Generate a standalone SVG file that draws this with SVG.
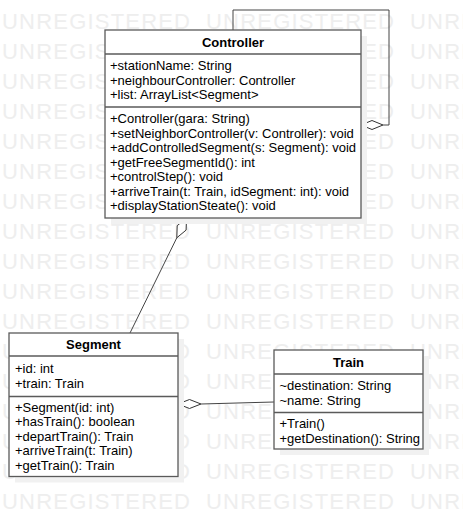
<svg xmlns="http://www.w3.org/2000/svg" width="463" height="519" viewBox="0 0 463 519">
<style>
.wm{font-family:"Liberation Sans",Arial,sans-serif;font-size:22px;letter-spacing:1.2px;fill:#eeeeee}
.box{fill:#ffffff;stroke:#5a5a5a;stroke-width:1.3}
.sep{stroke:#5a5a5a;stroke-width:1.3}
.shadow{fill:#f1f1f1}
.t{font-family:"Liberation Sans",Arial,sans-serif;font-size:13px;fill:#000}
.h{font-family:"Liberation Sans",Arial,sans-serif;font-size:13px;font-weight:bold;fill:#000;text-anchor:middle}
.ln{fill:none;stroke:#444;stroke-width:1}
.dm{fill:#ffffff;stroke:#333;stroke-width:1}
</style>
<rect width="463" height="519" fill="#ffffff"/>
<g id="watermark" class="wm">
<text y="29"><tspan x="2">UNREGISTERED</tspan><tspan x="206">UNREGISTERED</tspan><tspan x="410">UNREGISTERED</tspan></text>
<text y="59"><tspan x="2">UNREGISTERED</tspan><tspan x="206">UNREGISTERED</tspan><tspan x="410">UNREGISTERED</tspan></text>
<text y="89"><tspan x="2">UNREGISTERED</tspan><tspan x="206">UNREGISTERED</tspan><tspan x="410">UNREGISTERED</tspan></text>
<text y="119"><tspan x="2">UNREGISTERED</tspan><tspan x="206">UNREGISTERED</tspan><tspan x="410">UNREGISTERED</tspan></text>
<text y="149"><tspan x="2">UNREGISTERED</tspan><tspan x="206">UNREGISTERED</tspan><tspan x="410">UNREGISTERED</tspan></text>
<text y="179"><tspan x="2">UNREGISTERED</tspan><tspan x="206">UNREGISTERED</tspan><tspan x="410">UNREGISTERED</tspan></text>
<text y="209"><tspan x="2">UNREGISTERED</tspan><tspan x="206">UNREGISTERED</tspan><tspan x="410">UNREGISTERED</tspan></text>
<text y="239"><tspan x="2">UNREGISTERED</tspan><tspan x="206">UNREGISTERED</tspan><tspan x="410">UNREGISTERED</tspan></text>
<text y="269"><tspan x="2">UNREGISTERED</tspan><tspan x="206">UNREGISTERED</tspan><tspan x="410">UNREGISTERED</tspan></text>
<text y="299"><tspan x="2">UNREGISTERED</tspan><tspan x="206">UNREGISTERED</tspan><tspan x="410">UNREGISTERED</tspan></text>
<text y="329"><tspan x="2">UNREGISTERED</tspan><tspan x="206">UNREGISTERED</tspan><tspan x="410">UNREGISTERED</tspan></text>
<text y="359"><tspan x="2">UNREGISTERED</tspan><tspan x="206">UNREGISTERED</tspan><tspan x="410">UNREGISTERED</tspan></text>
<text y="389"><tspan x="2">UNREGISTERED</tspan><tspan x="206">UNREGISTERED</tspan><tspan x="410">UNREGISTERED</tspan></text>
<text y="419"><tspan x="2">UNREGISTERED</tspan><tspan x="206">UNREGISTERED</tspan><tspan x="410">UNREGISTERED</tspan></text>
<text y="449"><tspan x="2">UNREGISTERED</tspan><tspan x="206">UNREGISTERED</tspan><tspan x="410">UNREGISTERED</tspan></text>
<text y="479"><tspan x="2">UNREGISTERED</tspan><tspan x="206">UNREGISTERED</tspan><tspan x="410">UNREGISTERED</tspan></text>
<text y="509"><tspan x="2">UNREGISTERED</tspan><tspan x="206">UNREGISTERED</tspan><tspan x="410">UNREGISTERED</tspan></text>
</g>
<g id="connectors">
<polyline class="ln" points="233,30 233,10 389,10 389,125 383,125"/>
<polygon class="dm" points="361,125 372,120.5 383,125 372,129.5"/>
<line class="ln" x1="176.8" y1="237.8" x2="130" y2="333"/>
<polygon class="dm" points="186.5,218 186.1,230.1 176.8,237.8 177.2,225.7"/>
<line class="ln" x1="201" y1="404" x2="274" y2="402"/>
<polygon class="dm" points="178,404 189.5,399.5 201,404 189.5,408.5"/>
</g>
<g id="Controller">
<rect class="shadow" x="111" y="36" width="256" height="188"/>
<rect class="box" x="105" y="30" width="256" height="188"/>
<line class="sep" x1="105" y1="54" x2="361" y2="54"/>
<line class="sep" x1="105" y1="107" x2="361" y2="107"/>
<text class="h" x="233" y="46.7">Controller</text>
<text class="t" x="110" y="70">+stationName: String</text>
<text class="t" x="110" y="84.5">+neighbourController: Controller</text>
<text class="t" x="110" y="99">+list: ArrayList&lt;Segment&gt;</text>
<text class="t" x="110" y="123.3">+Controller(gara: String)</text>
<text class="t" x="110" y="137.8">+setNeighborController(v: Controller): void</text>
<text class="t" x="110" y="152.3">+addControlledSegment(s: Segment): void</text>
<text class="t" x="110" y="166.8">+getFreeSegmentId(): int</text>
<text class="t" x="110" y="181.3">+controlStep(): void</text>
<text class="t" x="110" y="195.8">+arriveTrain(t: Train, idSegment: int): void</text>
<text class="t" x="110" y="210.3">+displayStationSteate(): void</text>
</g>
<g id="Segment">
<rect class="shadow" x="15" y="339" width="169" height="143.5"/>
<rect class="box" x="9" y="333" width="169" height="143.5"/>
<line class="sep" x1="9" y1="356" x2="178" y2="356"/>
<line class="sep" x1="9" y1="396.5" x2="178" y2="396.5"/>
<text class="h" x="93.5" y="349.3">Segment</text>
<text class="t" x="15" y="373">+id: int</text>
<text class="t" x="15" y="388">+train: Train</text>
<text class="t" x="15" y="411.7">+Segment(id: int)</text>
<text class="t" x="15" y="426.2">+hasTrain(): boolean</text>
<text class="t" x="15" y="440.7">+departTrain(): Train</text>
<text class="t" x="15" y="455.2">+arriveTrain(t: Train)</text>
<text class="t" x="15" y="469.7">+getTrain(): Train</text>
</g>
<g id="Train">
<rect class="shadow" x="280" y="356" width="149" height="99"/>
<rect class="box" x="274" y="350" width="149" height="99"/>
<line class="sep" x1="274" y1="374" x2="423" y2="374"/>
<line class="sep" x1="274" y1="412.5" x2="423" y2="412.5"/>
<text class="h" x="348.5" y="366.7">Train</text>
<text class="t" x="279.5" y="389.5">~destination: String</text>
<text class="t" x="279.5" y="404.7">~name: String</text>
<text class="t" x="279.5" y="427.5">+Train()</text>
<text class="t" x="279.5" y="442.7">+getDestination(): String</text>
</g>
</svg>
